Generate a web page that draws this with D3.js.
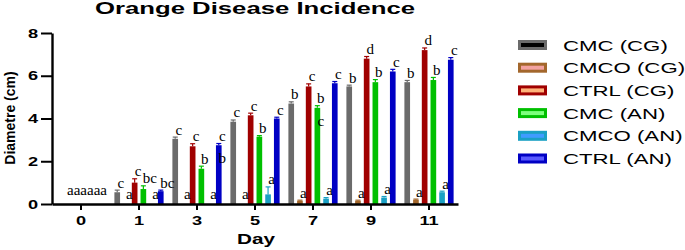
<!DOCTYPE html>
<html>
<head>
<meta charset="utf-8">
<script src="https://cdn.jsdelivr.net/npm/d3@7"></script>
<style>
  body { margin: 0; background: #fff; }
  svg { display: block; }
</style>
</head>
<body>
<svg id="chart" width="685" height="250"></svg>
<script>
// data
const days = ["0", "1", "3", "5", "7", "9", "11"];
const seriesNames = ["CMC (CG)", "CMCO (CG)", "CTRL (CG)", "CMC (AN)", "CMCO (AN)", "CTRL (AN)"];

const cmcCG   = [0, 0.55, 3.05, 3.85, 4.7, 5.5, 5.7];
const cmcoCG  = [0, 0, 0, 0, 0.15, 0.15, 0.2];
const ctrlCG  = [0, 1.0, 2.7, 4.15, 5.5, 6.8, 7.2];
const cmcAN   = [0, 0.7, 1.65, 3.15, 4.5, 5.7, 5.8];
const cmcoAN  = [0, 0, 0, 0.45, 0.25, 0.3, 0.55];
const ctrlAN  = [0, 0.6, 2.75, 4.0, 5.65, 6.2, 6.75];

const errCmcCG  = [0, 0.1, 0.08, 0.08, 0.08, 0.06, 0.08];
const errCmcoCG = [0, 0, 0, 0, 0.03, 0.03, 0.03];
const errCtrlCG = [0, 0.18, 0.12, 0.1, 0.12, 0.1, 0.1];
const errCmcAN  = [0, 0.15, 0.12, 0.05, 0.1, 0.12, 0.12];
const errCmcoAN = [0, 0, 0, 0.35, 0.05, 0.05, 0.05];
const errCtrlAN = [0, 0.05, 0.08, 0.06, 0.08, 0.1, 0.1];

const letCmcCG  = ["a", "c", "c", "c", "b", "b", "b"];
const letCmcoCG = ["a", "a", "a", "a", "a", "a", "a"];
const letCtrlCG = ["a", "c", "c", "c", "c", "d", "d"];
const letCmcAN  = ["a", "bc", "b", "b", "b", "b", "b"];
const letCmcoAN = ["a", "a", "a", "a", "a", "a", "a"];
const letCtrlAN = ["a", "bc", "c", "c", "c", "c", "c"];
// second letter written lower down, beside the bar
const lowCmcAN  = ["", "", "", "", "c", "", ""];
const lowCtrlAN = ["", "", "b", "", "", "", ""];

const yTicks = [0, 2, 4, 6, 8];

const barColors = ["#6b6b6b", "#a3672c", "#a00000", "#00c000", "#1aa0c4", "#0000c4"];
const innerColors = ["#000000", "#f3a2a0", "#ffb37a", "#7dff7d", "#3f9cff", "#5a5aff"];

const values = [cmcCG, cmcoCG, ctrlCG, cmcAN, cmcoAN, ctrlAN];
const errors = [errCmcCG, errCmcoCG, errCtrlCG, errCmcAN, errCmcoAN, errCtrlAN];
const letters = [letCmcCG, letCmcoCG, letCtrlCG, letCmcAN, letCmcoAN, letCtrlAN];
const lowLetters = [null, null, null, lowCmcAN, null, lowCtrlAN];

const svg = d3.select("#chart");
svg.append("rect").attr("width", 685).attr("height", 250).attr("fill", "#fff");

const sans = "'Liberation Sans', Arial, sans-serif";
const serif = "'Liberation Serif', 'Times New Roman', serif";
const letterSize = 15;

const x0 = d3.scaleBand().domain(days).range([52, 458]).padding(0);
const x1 = d3.scaleBand().domain(d3.range(seriesNames.length)).range([3, x0.bandwidth() - 3]).paddingInner(0.35).paddingOuter(0.16);
const y = d3.scaleLinear().domain([0, 8]).range([204, 33]);

// flat list of bars
const bars = [];
values.forEach((vals, s) => {
  vals.forEach((v, i) => {
    bars.push({ s: s, day: days[i], v: v, e: errors[s][i], t: letters[s][i],
                low: lowLetters[s] ? lowLetters[s][i] : "" });
  });
});

const bw = x1.bandwidth();
const bx = d => x0(d.day) + x1(d.s);

// bars
svg.append("g").selectAll("rect")
  .data(bars.filter(d => d.v > 0))
  .join("rect")
  .attr("x", bx)
  .attr("y", d => y(d.v))
  .attr("width", bw)
  .attr("height", d => y(0) - y(d.v))
  .attr("fill", d => barColors[d.s]);

// error bars (upper only)
const eg = svg.append("g").selectAll("g")
  .data(bars.filter(d => d.v > 0 && d.e > 0))
  .join("g")
  .attr("stroke", d => barColors[d.s])
  .attr("stroke-width", 1.2);
eg.append("line")
  .attr("x1", d => bx(d) + bw / 2).attr("x2", d => bx(d) + bw / 2)
  .attr("y1", d => y(d.v)).attr("y2", d => y(d.v + d.e));
eg.append("line")
  .attr("x1", d => bx(d) + bw / 2 - 2.5).attr("x2", d => bx(d) + bw / 2 + 2.5)
  .attr("y1", d => y(d.v + d.e)).attr("y2", d => y(d.v + d.e));

// significance letters (two-letter groups start at the bar centre)
svg.append("g").selectAll("text")
  .data(bars.filter(d => d.day !== "0"))
  .join("text")
  .attr("x", d => bx(d) + bw / 2 + (d.t.length > 1 ? -0.5 : 3.5))
  .attr("y", d => y(d.v + d.e) - (d.v > 0 ? 2.5 : 5))
  .attr("text-anchor", d => d.t.length > 1 ? "start" : "middle")
  .attr("font-family", serif)
  .attr("font-size", letterSize)
  .text(d => d.t);

svg.append("g").selectAll("text")
  .data(bars.filter(d => d.low))
  .join("text")
  .attr("x", d => bx(d) + bw / 2 + 3.5)
  .attr("y", d => y(d.v) + 18)
  .attr("text-anchor", "middle")
  .attr("font-family", serif)
  .attr("font-size", letterSize)
  .text(d => d.low);

// day 0: all letters run together
svg.append("text")
  .attr("x", x0("0") + x0.bandwidth() / 2 + 6)
  .attr("y", y(0) - 9)
  .attr("text-anchor", "middle")
  .attr("font-family", serif)
  .attr("font-size", letterSize)
  .text(letters.map(l => l[0]).join(""));

// axes
const xAxis = svg.append("g")
  .attr("transform", "translate(0," + y(0) + ")")
  .call(d3.axisBottom(x0).tickSize(6).tickSizeOuter(0).tickPadding(5));
const yAxis = svg.append("g")
  .attr("transform", "translate(52,0)")
  .call(d3.axisLeft(y).tickValues(yTicks).tickSize(11).tickSizeOuter(0));

[xAxis, yAxis].forEach(a => {
  a.select(".domain").attr("stroke", "#000").attr("stroke-width", 2.4);
  a.selectAll(".tick line").attr("stroke", "#000").attr("stroke-width", 2);
  a.selectAll("text")
    .attr("font-family", sans)
    .attr("font-weight", "bold")
    .attr("font-size", 13)
    .attr("fill", "#000");
});
xAxis.selectAll(".tick text")
  .attr("y", null).attr("dy", null)
  .attr("transform", "translate(0,21) scale(1.4,1)");
yAxis.selectAll(".tick text")
  .attr("x", 0)
  .attr("transform", "translate(-14,0) scale(1.4,1)");

// titles
svg.append("text")
  .attr("x", 95).attr("y", 14)
  .attr("font-family", sans).attr("font-weight", "bold").attr("font-size", 16.5)
  .attr("textLength", 320).attr("lengthAdjust", "spacingAndGlyphs")
  .text("Orange Disease Incidence");

svg.append("text")
  .attr("transform", "translate(256,244) scale(1.38,1)")
  .attr("text-anchor", "middle")
  .attr("font-family", sans).attr("font-weight", "bold").attr("font-size", 15)
  .text("Day");

svg.append("text")
  .attr("transform", "translate(15,118) rotate(-90)")
  .attr("text-anchor", "middle")
  .attr("font-family", sans).attr("font-weight", "bold").attr("font-size", 14)
  .text("Diametre (cm)");

// legend
const lg = svg.append("g").selectAll("g")
  .data(seriesNames)
  .join("g")
  .attr("transform", (d, i) => "translate(518," + (45 + i * 22.7) + ")");
lg.append("rect")
  .attr("x", 1.5).attr("y", -3.5)
  .attr("width", 26).attr("height", 7)
  .attr("fill", (d, i) => innerColors[i])
  .attr("stroke", (d, i) => barColors[i])
  .attr("stroke-width", 3);
lg.append("text")
  .attr("transform", "translate(45,5.5) scale(1.48,1)")
  .attr("font-family", sans).attr("font-size", 15)
  .attr("fill", "#000")
  .text(d => d);
</script>
</body>
</html>
